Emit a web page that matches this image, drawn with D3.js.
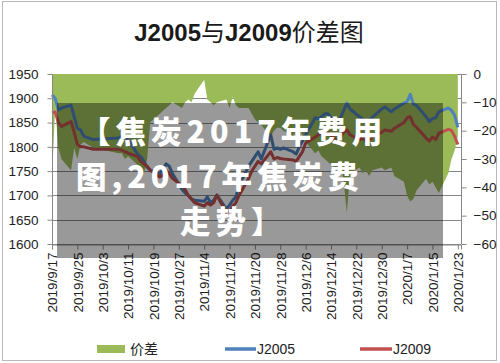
<!DOCTYPE html>
<html><head><meta charset="utf-8">
<script src="https://cdn.jsdelivr.net/npm/d3@7"></script>
<style>html,body{margin:0;padding:0;background:#fff;}svg{display:block;}</style>
</head><body>
<svg id="c" width="500" height="363"></svg>
<script>
const title = ["J2005", "与", "J2009", "价差图"];
const dates = ["2019-09-17","2019-09-18","2019-09-19","2019-09-20","2019-09-23","2019-09-24","2019-09-25","2019-09-26","2019-09-27","2019-09-30",
"2019-10-08","2019-10-09","2019-10-10","2019-10-11","2019-10-14","2019-10-15","2019-10-16","2019-10-17","2019-10-18","2019-10-21","2019-10-22","2019-10-23","2019-10-24","2019-10-25","2019-10-28","2019-10-29","2019-10-30","2019-10-31",
"2019-11-01","2019-11-04","2019-11-05","2019-11-06","2019-11-07","2019-11-08","2019-11-11","2019-11-12","2019-11-13","2019-11-14","2019-11-15","2019-11-18","2019-11-19","2019-11-20","2019-11-21","2019-11-22","2019-11-25","2019-11-26","2019-11-27","2019-11-28","2019-11-29",
"2019-12-02","2019-12-03","2019-12-04","2019-12-05","2019-12-06","2019-12-09","2019-12-10","2019-12-11","2019-12-12","2019-12-13","2019-12-16","2019-12-17","2019-12-18","2019-12-19","2019-12-20","2019-12-23","2019-12-24","2019-12-25","2019-12-26","2019-12-27","2019-12-30","2019-12-31",
"2020-01-02","2020-01-03","2020-01-06","2020-01-07","2020-01-08","2020-01-09","2020-01-10","2020-01-13","2020-01-14","2020-01-15","2020-01-16","2020-01-17","2020-01-20","2020-01-21","2020-01-22","2020-01-23"];
const j2005 = [1907,1900,1876,1880,1886,1862,1838,1835,1822,1815,
1818,1822,1820,1815,1785,1780,1770,1758,1752,1745,1755,1765,1760,1745,1712,1705,1700,1693,
1690,1688,1697,1685,1690,1701,1672,1680,1690,1697,1720,1760,1770,1780,1790,1775,1825,1795,1798,1795,1798,
1790,1785,1800,1812,1825,1860,1858,1862,1868,1868,1845,1860,1875,1890,1878,1862,1858,1852,1856,1860,1878,1882,
1872,1878,1890,1893,1908,1888,1885,1862,1852,1858,1860,1872,1880,1875,1865,1840];
const j2009 = [1870,1872,1850,1842,1852,1830,1805,1800,1800,1795,
1795,1793,1790,1787,1780,1770,1765,1760,1752,1738,1742,1752,1745,1735,1720,1712,1700,1692,
1685,1678,1685,1680,1685,1700,1665,1668,1678,1685,1700,1735,1750,1760,1770,1765,1790,1775,1778,1776,1775,
1773,1770,1780,1790,1808,1820,1825,1828,1830,1830,1812,1822,1830,1835,1825,1815,1818,1812,1815,1820,1830,1835,
1832,1838,1850,1860,1862,1846,1840,1818,1812,1820,1815,1828,1836,1834,1822,1805];
const spread = [-37,-12,-26,-30,-34,-26,-30,-25,-24,-26,
-28,-28,-30,-29,-32,-33,-35,-30,-17,-14,-13,-12,-11,-10,-12,-10,-9,-10,
-7,-2,-9,-10,-11,-10,-9,-12,-8,-11,-12,-12,-14,-16,-17,-18,-22,-20,-19,-19,-20,
-22,-20,-18,-22,-24,-28,-27,-29,-30,-31,-34,-30,-38,-49,-35,-33,-35,-34,-36,-34,-33,-34,
-33,-36,-38,-43,-45,-44,-41,-37,-39,-38,-40,-42,-35,-30,-27,-22];
const xTickLabels = ["2019/9/17","2019/9/25","2019/10/3","2019/10/11","2019/10/19","2019/10/27","2019/11/4","2019/11/12","2019/11/20","2019/11/28","2019/12/6","2019/12/14","2019/12/22","2019/12/30","2020/1/7","2020/1/15","2020/1/23"];
const leftTicks = [1600,1650,1700,1750,1800,1850,1900,1950];
const rightTicks = [-60,-50,-40,-30,-20,-10,0];
const legendLabels = ["价差","J2005","J2009"];
const colors = {spread:"#9BBB59", j2005:"#4F81BD", j2009:"#C0504D"};
const overlayLines = ["【焦炭2017年费用","图,2017年焦炭费","走势】"];

const svg = d3.select("#c");
const parse = d3.timeParse("%Y-%m-%d");
const parseTick = d3.timeParse("%Y/%m/%d");
const data = dates.map((d,i)=>({date:parse(d), a:j2005[i], b:j2009[i], s:spread[i]}));

const L = 52, R = 461, T = 74, B = 244;
const x = d3.scaleTime().domain([parse("2019-09-17"), parse("2020-01-24")]).range([L, R]);
const yL = d3.scaleLinear().domain([1600,1950]).range([B, T]);
const yR = d3.scaleLinear().domain([-60,0]).range([B, T]);

// outer frame
svg.append("rect").attr("x",2.5).attr("y",1.5).attr("width",494).attr("height",359)
  .attr("fill","none").attr("stroke","#b8b8b8").attr("stroke-width",1);

// title
const tt = svg.append("text").attr("x",249).attr("y",41).attr("text-anchor","middle")
  .attr("font-size",24).attr("fill","#1a1a1a");
title.forEach((t,i)=>{
  tt.append("tspan").text(t)
    .attr("font-family", i%2===0 ? "'Liberation Sans', Arial, sans-serif" : "'Noto Sans CJK SC', sans-serif")
    .attr("font-weight", i%2===0 ? "bold" : "normal");
});

// gridlines
svg.append("g").selectAll("line").data(leftTicks).join("line")
  .attr("x1",L).attr("x2",R).attr("y1",d=>Math.round(yL(d))+0.5).attr("y2",d=>Math.round(yL(d))+0.5)
  .attr("stroke","#878787").attr("stroke-width",1);

// area
const area = d3.area().x(d=>x(d.date)).y0(yR(0)).y1(d=>yR(d.s));
svg.append("path").datum(data).attr("d",area).attr("fill",colors.spread);

// lines
const lineA = d3.line().x(d=>x(d.date)).y(d=>yL(d.a));
const lineB = d3.line().x(d=>x(d.date)).y(d=>yL(d.b));
svg.append("path").datum(data).attr("d",lineA).attr("fill","none").attr("stroke",colors.j2005).attr("stroke-width",3).attr("stroke-linejoin","round");
svg.append("path").datum(data).attr("d",lineB).attr("fill","none").attr("stroke",colors.j2009).attr("stroke-width",3).attr("stroke-linejoin","round");

// axes
const font = "'Liberation Sans', Arial, sans-serif";
const axL = svg.append("g").attr("transform",`translate(${L+0.5},0)`)
  .call(d3.axisLeft(yL).tickValues(leftTicks).tickSize(5).tickPadding(9).tickFormat(d3.format("d")));
const axR = svg.append("g").attr("transform",`translate(${R+0.5},0)`)
  .call(d3.axisRight(yR).tickValues(rightTicks).tickSize(5).tickPadding(7).tickFormat(d3.format("d")));
const xt = xTickLabels.map(s=>parseTick(s));
const axB = svg.append("g").attr("transform",`translate(0,${B+0.5})`)
  .call(d3.axisBottom(x).tickValues(xt).tickSize(5).tickPadding(6).tickFormat((d,i)=>xTickLabels[i]));
axB.selectAll("text").attr("transform","rotate(-90)").attr("text-anchor","end")
  .attr("x",-8).attr("y",0).attr("dy","0.35em");
[axL,axR,axB].forEach(g=>{
  g.select(".domain").attr("stroke","#878787");
  g.selectAll(".tick line").attr("stroke","#878787");
  g.selectAll("text").attr("font-family",font).attr("font-size",13.5).attr("fill","#222");
});
axL.select(".domain").remove();
axL.append("line").attr("x1",0).attr("x2",0).attr("y1",T).attr("y2",B).attr("stroke","#878787");
axR.select(".domain").remove();
axR.append("line").attr("x1",0).attr("x2",0).attr("y1",T).attr("y2",B).attr("stroke","#878787");

// legend
const lg = svg.append("g").attr("font-family","'Noto Sans CJK SC', 'Liberation Sans', sans-serif").attr("font-size",14).attr("fill","#222");
lg.append("rect").attr("x",97).attr("y",345).attr("width",28).attr("height",8).attr("fill",colors.spread);
lg.append("text").attr("x",130).attr("y",349).attr("dy","0.35em").text(legendLabels[0]);
lg.append("line").attr("x1",225).attr("x2",256).attr("y1",349).attr("y2",349).attr("stroke",colors.j2005).attr("stroke-width",3.5);
lg.append("text").attr("x",257).attr("y",349).attr("dy","0.35em").attr("font-family",font).text(legendLabels[1]);
lg.append("line").attr("x1",360).attr("x2",392).attr("y1",349).attr("y2",349).attr("stroke",colors.j2009).attr("stroke-width",3.5);
lg.append("text").attr("x",393).attr("y",349).attr("dy","0.35em").attr("font-family",font).text(legendLabels[2]);

// overlay
svg.append("rect").attr("x",57).attr("y",103).attr("width",386).attr("height",155).attr("fill","rgba(0,0,0,0.4)");
const ovX = [80, 76, 180];
const ovY = [143, 188, 233];
const ov = svg.append("text")
  .attr("font-family","'Noto Sans CJK SC', sans-serif").attr("font-weight",900)
  .attr("font-size",30.5).attr("letter-spacing",5).attr("fill","#fff");
overlayLines.forEach((t,i)=>{
  ov.append("tspan").attr("x",ovX[i]).attr("y",ovY[i]).text(t);
});
</script>
</body></html>
